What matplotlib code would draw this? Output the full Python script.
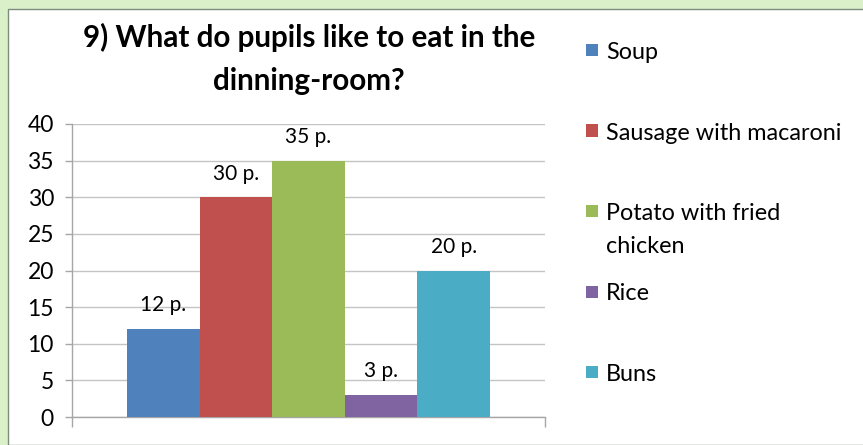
import matplotlib.pyplot as plt
from matplotlib.patches import Rectangle

plt.rcParams['font.family'] = ['Lato', 'DejaVu Sans']

# data
series = ['Soup', 'Sausage with macaroni', 'Potato with fried\nchicken', 'Rice', 'Buns']
values = [12, 30, 35, 3, 20]
labels = ['12 p.', '30 p.', '35 p.', '3 p.', '20 p.']
colors = ['#4F81BD', '#C0504D', '#9BBB59', '#8064A2', '#4BACC6']
yticks = [0, 5, 10, 15, 20, 25, 30, 35, 40]

W, H = 863, 445
fig = plt.figure(figsize=(W / 100, H / 100), dpi=100)
fig.patch.set_facecolor('#d9f0c9')

# white chart area with thin dark border on the top/left
fig.patches.append(Rectangle((8 / W, 0), 1, 1 - 9 / H, transform=fig.transFigure,
                             facecolor='white', edgecolor='#7f8a7f', linewidth=1.0, zorder=-5))

ax = fig.add_axes([72 / W, 1 - 417 / H, 473 / W, 293 / H])
ax.set_facecolor('none')

n = len(values)
xs = [i - (n - 1) / 2 for i in range(n)]
ax.bar(xs, values, width=1.0, color=colors, zorder=3)
for x, v, lab in zip(xs, values, labels):
    ax.annotate(lab, (x, v), xytext=(0, 17), textcoords='offset points',
                ha='center', va='center', fontsize=15)

ax.set_xlim(-n / 2 - 0.755, n / 2 + 0.755)
ax.set_ylim(0, 40)
ax.set_yticks(yticks)
ax.set_xticks([-n / 2 - 0.755, n / 2 + 0.755])
ax.set_xticklabels([])
ax.grid(axis='y', color='#c4c4c4', linewidth=1.0, zorder=0)
for s in ['top', 'right']:
    ax.spines[s].set_visible(False)
for s in ['left', 'bottom']:
    ax.spines[s].set_color('#a6a6a6')
    ax.spines[s].set_linewidth(1.0)
ax.tick_params(axis='y', length=5, width=1, color='#a6a6a6', labelsize=16.5, pad=8)
ax.tick_params(axis='x', length=7, width=1, color='#a6a6a6')

fig.text(309 / W, 1 - 59 / H, '9) What do pupils like to eat in the\ndinning-room?',
         ha='center', va='center', fontsize=21.3, fontweight='bold', linespacing=1.62)

# legend
for i, (name, c) in enumerate(zip(series, colors)):
    yc = 52 + i * 80.5
    fig.patches.append(Rectangle((586 / W, 1 - (yc + 4) / H), 12 / W, 12 / H,
                                 transform=fig.transFigure, facecolor=c, edgecolor='none'))
    fig.text(606 / W, 1 - (yc - 10) / H, name, ha='left', va='top', fontsize=16.8,
             linespacing=1.7)

fig.savefig('out.png', dpi=100, facecolor=fig.get_facecolor())
